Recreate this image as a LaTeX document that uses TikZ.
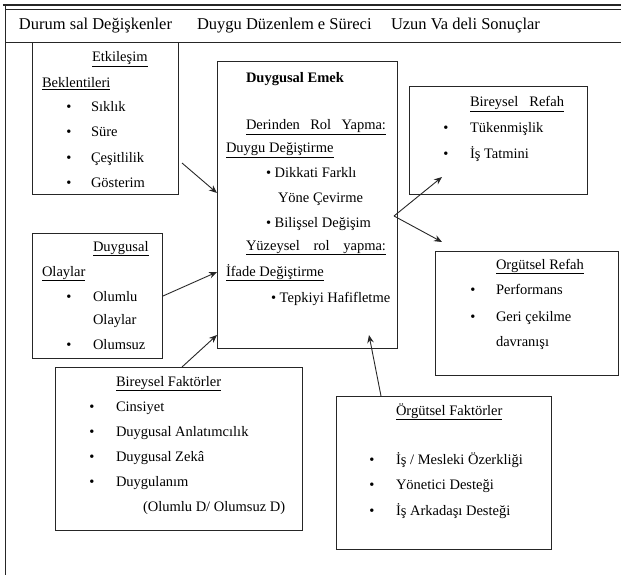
\documentclass[tikz,border=0pt]{standalone}
\usepackage{fontspec}
\setmainfont{Liberation Serif}
\usetikzlibrary{arrows.meta}
\begin{document}
\begin{tikzpicture}[x=1pt, y=-1pt,
  every node/.style={inner sep=0pt, outer sep=0pt, font=\fontsize{14.5}{16}\selectfont},
  box/.style={draw=black!85, line width=1pt, anchor=north west},
  txt/.style={anchor=base west},
  bul/.style={anchor=base},
  arr/.style={draw=black!85, line width=0.9pt, -{Stealth[length=8pt, width=6.5pt]}}]
\useasboundingbox (0,0) rectangle (621,575);

\draw[black!85, line width=1.2pt] (3,5) -- (621,5);
\draw[black!85, line width=1pt] (5,10) -- (621,10);
\draw[black!85, line width=1pt] (5,43) -- (621,43);
\draw[black!85, line width=1pt] (5,5) -- (5,575);

\node[txt, font=\fontsize{16.5}{18}\selectfont] (h1) at (19,30) {Durum sal Değişkenler};
\node[txt, font=\fontsize{16.5}{18}\selectfont] (h2) at (197,30) {Duygu Düzenlem e Süreci};
\node[txt, font=\fontsize{16.5}{18}\selectfont] (h3) at (391,30) {Uzun Va deli Sonuçlar};

\node[box, minimum width=146pt, minimum height=151pt] (etk) at (32,43) {};
\node[txt] (etk1) at (92,62) {\underline{Etkileşim}};
\node[txt] (etk2) at (42,88) {\underline{Beklentileri}};
\node[bul] (etkb1) at (69,112) {\textbullet};
\node[bul] (etkb2) at (69,137) {\textbullet};
\node[bul] (etkb3) at (69,162) {\textbullet};
\node[bul] (etkb4) at (69,187) {\textbullet};
\node[txt] (etk3) at (91,112) {Sıklık};
\node[txt] (etk4) at (91,137) {Süre};
\node[txt] (etk5) at (91,162) {Çeşitlilik};
\node[txt] (etk6) at (91,187) {Gösterim};

\node[box, minimum width=180pt, minimum height=286pt] (emek) at (217,62) {};
\node[txt] (emek1) at (246,83) {\textbf{Duygusal Emek}};
\node[txt] (emek2) at (246,130) {\underline{\makebox[140pt][s]{Derinden Rol Yapma:}}};
\node[txt] (emek3) at (226,153) {\underline{Duygu Değiştirme}};
\node[txt] (emek4) at (266,178) {\textbullet\ Dikkati Farklı};
\node[txt] (emek5) at (278,202) {Yöne Çevirme};
\node[txt] (emek6) at (266,227) {\textbullet\ Bilişsel Değişim};
\node[txt] (emek7) at (246,250) {\underline{\makebox[140pt][s]{Yüzeysel rol yapma:}}};
\node[txt] (emek8) at (226,276) {\underline{İfade Değiştirme}};
\node[txt] (emek9) at (271,302) {\textbullet\ Tepkiyi Hafifletme};

\node[box, minimum width=178pt, minimum height=107pt] (brefah) at (409,87) {};
\node[txt] (brefah1) at (470,107) {\underline{\makebox[94pt][s]{Bireysel Refah}}};
\node[bul] (brefahb1) at (446,133) {\textbullet};
\node[bul] (brefahb2) at (446,158) {\textbullet};
\node[txt] (brefah2) at (470,133) {Tükenmişlik};
\node[txt] (brefah3) at (470,158) {İş Tatmini};

\node[box, minimum width=130pt, minimum height=125pt] (olay) at (32,233) {};
\node[txt] (olay1) at (93,251) {\underline{Duygusal}};
\node[txt] (olay2) at (42,276) {\underline{Olaylar}};
\node[bul] (olayb1) at (69,301) {\textbullet};
\node[bul] (olayb2) at (69,349) {\textbullet};
\node[txt] (olay3) at (93,301) {Olumlu};
\node[txt] (olay4) at (93,324) {Olaylar};
\node[txt] (olay5) at (93,349) {Olumsuz};

\node[box, minimum width=183pt, minimum height=124pt] (orefah) at (435,251) {};
\node[txt] (orefah1) at (496,269) {\underline{Orgütsel Refah}};
\node[bul] (orefahb1) at (473,294) {\textbullet};
\node[bul] (orefahb2) at (473,321) {\textbullet};
\node[txt] (orefah2) at (496,294) {Performans};
\node[txt] (orefah3) at (496,321) {Geri çekilme};
\node[txt] (orefah4) at (496,346) {davranışı};

\node[box, minimum width=247pt, minimum height=163pt] (bfak) at (55,367) {};
\node[txt] (bfak1) at (116,386) {\underline{Bireysel Faktörler}};
\node[bul] (bfakb1) at (92,411) {\textbullet};
\node[bul] (bfakb2) at (92,436) {\textbullet};
\node[bul] (bfakb3) at (92,461) {\textbullet};
\node[bul] (bfakb4) at (92,486) {\textbullet};
\node[txt] (bfak2) at (116,411) {Cinsiyet};
\node[txt] (bfak3) at (116,436) {Duygusal Anlatımcılık};
\node[txt] (bfak4) at (116,461) {Duygusal Zekâ};
\node[txt] (bfak5) at (116,486) {Duygulanım};
\node[txt] (bfak6) at (143,511) {(Olumlu D/ Olumsuz D)};

\node[box, minimum width=215pt, minimum height=153pt] (ofak) at (336,396) {};
\node[txt] (ofak1) at (396,415) {\underline{Örgütsel Faktörler}};
\node[bul] (ofakb1) at (372,464) {\textbullet};
\node[bul] (ofakb2) at (372,489) {\textbullet};
\node[bul] (ofakb3) at (372,515) {\textbullet};
\node[txt] (ofak2) at (396,464) {İş / Mesleki Özerkliği};
\node[txt] (ofak3) at (396,489) {Yönetici Desteği};
\node[txt] (ofak4) at (396,515) {İş Arkadaşı Desteği};

\coordinate (etkout) at (182,163);
\coordinate (etkin) at (217,193);
\coordinate (olayout) at (163,296);
\coordinate (olayin) at (217,272);
\coordinate (bfakout) at (182,367);
\coordinate (bfakin) at (217,335);
\coordinate (ofakout) at (381,396);
\coordinate (ofakin) at (369,335);
\coordinate (emekout) at (394,216);
\coordinate (brefahin) at (442,177);
\coordinate (orefahin) at (442,242);

\draw[arr] (etkout) -- (etkin);
\draw[arr] (olayout) -- (olayin);
\draw[arr] (bfakout) -- (bfakin);
\draw[arr] (ofakout) -- (ofakin);
\draw[arr] (emekout) -- (brefahin);
\draw[arr] (emekout) -- (orefahin);
\end{tikzpicture}
\end{document}
